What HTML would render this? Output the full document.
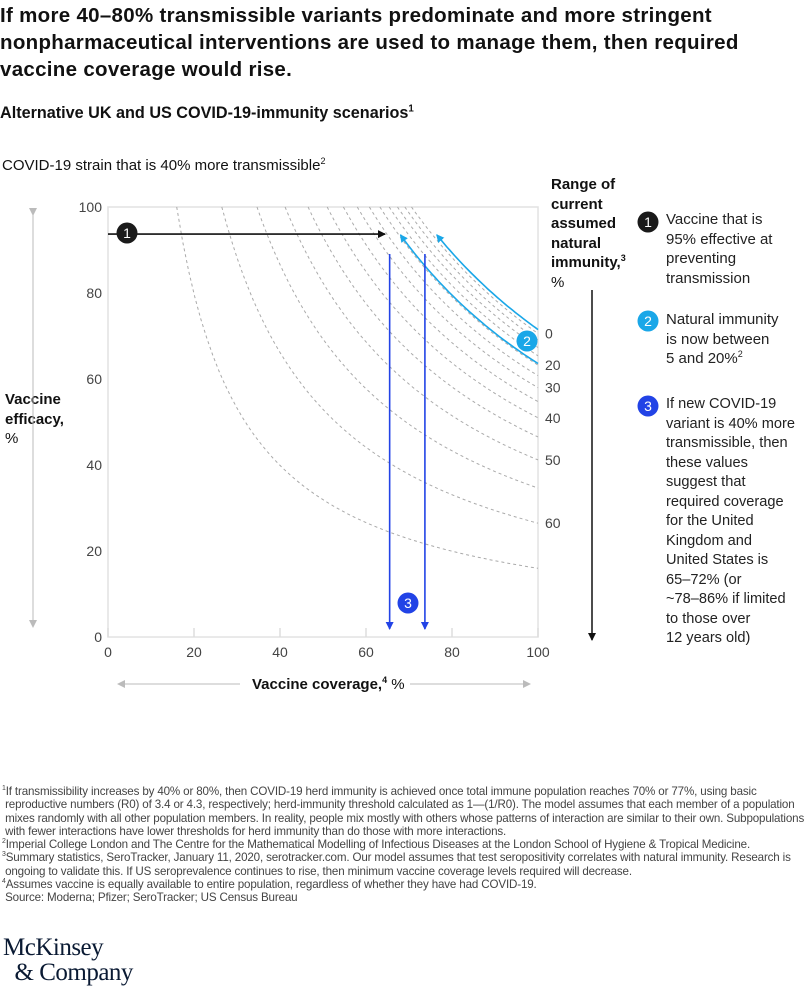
<!DOCTYPE html>
<html><head><meta charset="utf-8">
<style>
body{margin:0;width:804px;height:990px;background:#fff;font-family:"Liberation Sans",sans-serif;color:#000;position:relative;overflow:hidden}
.a{position:absolute}
.t{left:0;top:2px;font-size:20.5px;line-height:27px;width:804px;color:#111;font-weight:bold;white-space:nowrap;letter-spacing:0.3px}
.st{left:0;top:104px;font-size:16.2px;font-weight:bold;color:#111}
.cs{left:2px;top:157px;font-size:15px;color:#111}
.leg{font-size:15px;line-height:19.5px;color:#222;left:666px;white-space:nowrap}
.fn{left:2px;top:785px;font-size:11.6px;line-height:13.3px;color:#444;white-space:nowrap;letter-spacing:-0.15px}
sup{font-size:60%;line-height:0}
</style></head><body>
<div class="a t">If more 40–80% transmissible variants predominate and more stringent<br>nonpharmaceutical interventions are used to manage them, then required<br>vaccine coverage would rise.</div>
<div class="a st">Alternative UK and US COVID-19-immunity scenarios<sup>1</sup></div>
<div class="a cs">COVID-19 strain that is 40% more transmissible<sup>2</sup></div>
<div class="a" style="left:551px;top:175px;font-size:15px;line-height:19.5px;font-weight:bold;color:#111">Range of<br>current<br>assumed<br>natural<br>immunity,<sup>3</sup><br><span style="font-weight:normal">%</span></div>
<div class="a" style="left:5px;top:390px;font-size:15px;line-height:19.5px;font-weight:bold;color:#111;background:#fff">Vaccine<br>efficacy,<br><span style="font-weight:normal">%</span></div>
<div class="a" style="left:252px;top:676px;font-size:15px;font-weight:bold;color:#111">Vaccine coverage,<sup>4</sup> <span style="font-weight:normal">%</span></div>
<div class="a leg" style="top:210px">Vaccine that is<br>95% effective at<br>preventing<br>transmission</div>
<div class="a leg" style="top:310px">Natural immunity<br>is now between<br>5 and 20%<sup>2</sup></div>
<div class="a leg" style="top:395px;font-size:14.6px">If new COVID-19<br>variant is 40% more<br>transmissible, then<br>these values<br>suggest that<br>required coverage<br>for the United<br>Kingdom and<br>United States is<br>65–72% (or<br>~78–86% if limited<br>to those over<br>12 years old)</div>
<div class="a fn"><sup>1</sup>If transmissibility increases by 40% or 80%, then COVID-19 herd immunity is achieved once total immune population reaches 70% or 77%, using basic<br>&nbsp;reproductive numbers (R0) of 3.4 or 4.3, respectively; herd-immunity threshold calculated as 1—(1/R0). The model assumes that each member of a population<br>&nbsp;mixes randomly with all other population members. In reality, people mix mostly with others whose patterns of interaction are similar to their own. Subpopulations<br>&nbsp;with fewer interactions have lower thresholds for herd immunity than do those with more interactions.<br><sup>2</sup>Imperial College London and The Centre for the Mathematical Modelling of Infectious Diseases at the London School of Hygiene &amp; Tropical Medicine.<br><sup>3</sup>Summary statistics, SeroTracker, January 11, 2020, serotracker.com. Our model assumes that test seropositivity correlates with natural immunity. Research is<br>&nbsp;ongoing to validate this. If US seroprevalence continues to rise, then minimum vaccine coverage levels required will decrease.<br><sup>4</sup>Assumes vaccine is equally available to entire population, regardless of whether they have had COVID-19.<br>&nbsp;Source: Moderna; Pfizer; SeroTracker; US Census Bureau</div>
<div class="a" style="left:3px;top:935px;font-family:'Liberation Serif',serif;font-size:25px;line-height:25px;color:#0a1a33;letter-spacing:-0.5px">McKinsey<br>&nbsp;&nbsp;&amp; Company</div>
<svg class="a" style="left:0;top:0" width="804" height="990" id="chart"></svg>
<script>
const R0 = 3.4;
const immunityLevels = [0,5,10,15,20,25,30,35,40,45,50,55,60,65];
const labeledImmunity = [0,20,30,40,50,60];
const xTicks = [0,20,40,60,80,100];
const yTicks = [0,20,40,60,80,100];
const vaccineEfficacy = [95];
const requiredCoverage = [65.5, 73.7];
const rangeProducts = [0.715, 0.636];
const NS='http://www.w3.org/2000/svg';
const svg=document.getElementById('chart');
const X0=108,X1=538,Y0=637,Y1=207;
const sx=v=>X0+(X1-X0)*v/100, sy=v=>Y0-(Y0-Y1)*v/100;
function el(tag,attrs,parent){const e=document.createElementNS(NS,tag);for(const k in attrs)e.setAttribute(k,attrs[k]);(parent||svg).appendChild(e);return e;}
const defs=el('defs',{});
[['ab','#111'],['al','#1aa7e8'],['ad','#2243e6'],['ag','#bbb']].forEach(([id,c])=>{const m=el('marker',{id,markerWidth:8,markerHeight:8,refX:7,refY:4,orient:'auto',markerUnits:'userSpaceOnUse'},defs);el('path',{d:'M0,0 L8,4 L0,8 z',fill:c},m);});
const fr=el('rect',{x:X0,y:Y1,width:X1-X0,height:Y0-Y1,fill:'none',stroke:'#e2e2e2','stroke-width':1.5});

xTicks.forEach(v=>{
 const tm=el('line',{x1:sx(v),x2:sx(v),y1:Y0,y2:Y0-9,stroke:'#ddd','stroke-width':1.5});
 
 const t=el('text',{x:sx(v),y:Y0+20,'text-anchor':'middle','font-size':14,fill:'#444'});t.textContent=v;
 
});
yTicks.forEach(v=>{
 const t=el('text',{x:X0-6,y:sy(v)+5,'text-anchor':'end','font-size':14,fill:'#444'});t.textContent=v;
 
});
const T=1-1/R0;
const prod=n=>(T-n/100)/(1-n/100);
function hyper(p){let d='';for(let i=0;i<=60;i++){const V=p+(1-p)*i/60;d+=(i?'L':'M')+sx(V*100).toFixed(1)+','+sy(p/V*100).toFixed(1);}return d;}
immunityLevels.forEach(n=>{
 const c=el('path',{d:hyper(prod(n)),fill:'none',stroke:'#aaa','stroke-width':1,'stroke-dasharray':'3,3'});
 
});
labeledImmunity.forEach(n=>{
 const t=el('text',{x:545,y:sy(prod(n)*100)+5,'font-size':14,fill:'#444'});t.textContent=n;
 
});
rangeProducts.forEach((p,i)=>{
 let d='';const vStart=1,vEnd=p/0.935;
 for(let k=0;k<=40;k++){const V=vStart+(vEnd-vStart)*k/40;d+=(k?'L':'M')+sx(V*100).toFixed(1)+','+sy(Math.min(p/V,1)*100).toFixed(1);}
 const c=el('path',{d,fill:'none',stroke:'#1aa7e8','stroke-width':1.6,'marker-end':'url(#al)'});
 
});
vaccineEfficacy.forEach(e=>{
 const l=el('line',{x1:X0,y1:sy(e-1.3),x2:385,y2:sy(e-1.3),stroke:'#111','stroke-width':1.6,'marker-end':'url(#ab)'});
 
});
requiredCoverage.forEach(c=>{
 const l=el('line',{x1:sx(c),y1:254,x2:sx(c),y2:Y0-8,stroke:'#2243e6','stroke-width':1.6,'marker-end':'url(#ad)'});
 
});
function badge(x,y,fill,n,name){const g=el('g',{});
 el('circle',{cx:x,cy:y,r:10.5,fill},g);const t=el('text',{x,y:y+5,'text-anchor':'middle','font-size':14,fill:'#fff'},g);t.textContent=n;}
badge(127,233,'#1a1a1a','1','badge-1');badge(527,341,'#1aa7e8','2','badge-2');badge(408,603,'#2243e6','3','badge-3');
badge(648,222,'#1a1a1a','1','legend-badge-1');badge(648,321,'#1aa7e8','2','legend-badge-2');badge(648,406,'#2243e6','3','legend-badge-3');
const a1=el('line',{x1:33,y1:215,x2:33,y2:627,stroke:'#bbb','stroke-width':1,'marker-start':'url(#ag)','marker-end':'url(#ag)'});

[[118,240],[530,410]].forEach(([a,b])=>{const l=el('line',{x1:b,y1:684,x2:a,y2:684,stroke:'#bbb','stroke-width':1,'marker-end':'url(#ag)'});});
const a3=el('line',{x1:592,y1:290,x2:592,y2:640,stroke:'#111','stroke-width':1.5,'marker-end':'url(#ab)'});

</script>
</body></html>
